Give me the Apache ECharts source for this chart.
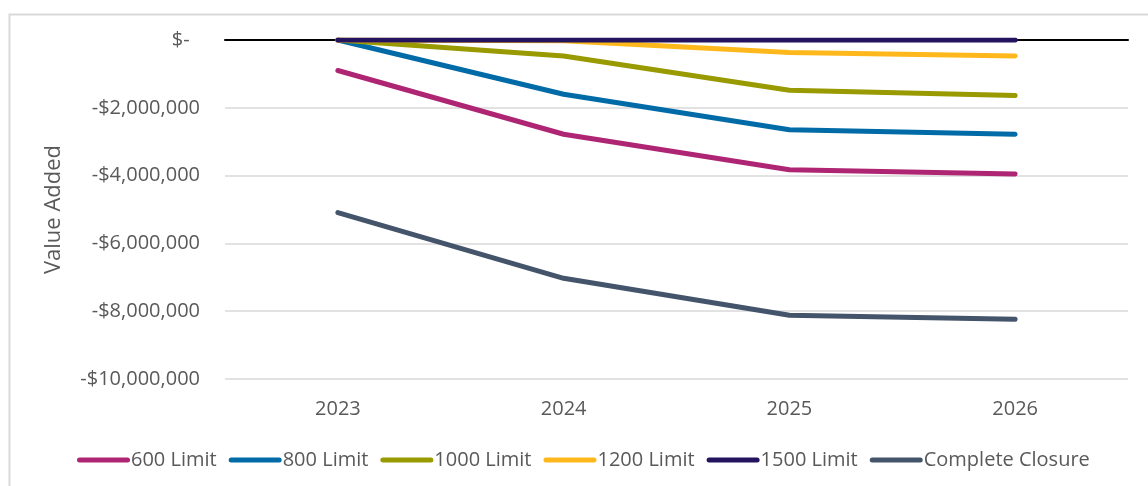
<!DOCTYPE html>
<html>
<head>
<meta charset="utf-8">
<script src="https://cdn.jsdelivr.net/npm/echarts@6/dist/echarts.min.js"></script>
<style>
  html, body { margin: 0; padding: 0; background: #ffffff; }
  #chart { width: 1148px; height: 486px; }
</style>
</head>
<body>
<div id="chart"></div>
<script>
// Years on the category axis
const years = ['2023', '2024', '2025', '2026'];

// Value added (USD) under each weight-limit scenario
const limit600 = [-900000, -2780000, -3830000, -3950000];
const limit800 = [0, -1600000, -2650000, -2780000];
const limit1000 = [0, -470000, -1480000, -1640000];
const limit1200 = [0, -20000, -370000, -470000];
const limit1500 = [0, 0, 0, 0];
const completeClosure = [-5090000, -7030000, -8120000, -8240000];

// Value axis range and step
const yMin = -10000000;
const yMax = 0;
const yStep = 2000000;

const seriesNames = ['600 Limit', '800 Limit', '1000 Limit', '1200 Limit', '1500 Limit', 'Complete Closure'];
const seriesData = [limit600, limit800, limit1000, limit1200, limit1500, completeClosure];
const seriesColors = ['#AE2573', '#006BA6', '#999900', '#FFB81C', '#24135F', '#44546A'];

const FONT = '"Open Sans", "Noto Sans", sans-serif';
const TEXT_GRAY = '#595959';

// Thick capsule used as the legend key
const LEGEND_ICON = 'path://M2.5,0 L50.5,0 A2.5,2.5 0 0 1 50.5,5 L2.5,5 A2.5,2.5 0 0 1 2.5,0 Z';

function money(v) {
  if (v === 0) return '$-  ';
  const s = Math.abs(v).toLocaleString('en-US');
  return (v < 0 ? '-$' : '$') + s;
}

const chart = echarts.init(document.getElementById('chart'), null, { renderer: 'canvas' });

chart.setOption({
  animation: false,
  backgroundColor: '#ffffff',
  graphic: [{
    type: 'rect',
    left: 7, top: 12,
    shape: { width: 1300, height: 600 },
    style: { fill: 'none', stroke: '#D9D9D9', lineWidth: 2 },
    silent: true,
    z: -10
  }],
  grid: { left: 225, right: 20, top: 40, bottom: 107, containLabel: false },
  legend: {
    left: 72,
    top: 445,
    icon: LEGEND_ICON,
    itemWidth: 53,
    itemHeight: 5,
    itemGap: 12,
    textStyle: { fontFamily: FONT, fontSize: 20, color: TEXT_GRAY, padding: [0, 0, 0, -4] },
    data: seriesNames
  },
  xAxis: [{
    type: 'category',
    data: years,
    position: 'bottom',
    axisLine: { show: false, onZero: false },
    axisTick: { show: false },
    axisLabel: { fontFamily: FONT, fontSize: 20, color: TEXT_GRAY, margin: 20 },
    splitLine: { show: false }
  }, {
    type: 'category',
    data: years,
    position: 'top',
    axisLine: { show: true, onZero: false, lineStyle: { color: '#000000', width: 2 } },
    axisTick: { show: false },
    axisLabel: { show: false },
    splitLine: { show: false }
  }],
  yAxis: {
    type: 'value',
    min: yMin,
    max: yMax,
    interval: yStep,
    name: 'Value Added',
    nameLocation: 'middle',
    nameGap: 160,
    nameTextStyle: { fontFamily: FONT, fontSize: 22, color: TEXT_GRAY },
    axisLine: { show: false },
    axisTick: { show: false },
    axisLabel: { fontFamily: FONT, fontSize: 20, color: TEXT_GRAY, margin: 25, formatter: money },
    splitLine: { lineStyle: { color: '#D9D9D9', width: 1.5 } }
  },
  series: seriesNames.map((name, i) => ({
    name: name,
    type: 'line',
    data: seriesData[i],
    symbol: 'none',
    showSymbol: false,
    color: seriesColors[i],
    lineStyle: { width: 5, color: seriesColors[i], cap: 'round', join: 'round' },
    itemStyle: { color: seriesColors[i] }
  }))
});
</script>
</body>
</html>
